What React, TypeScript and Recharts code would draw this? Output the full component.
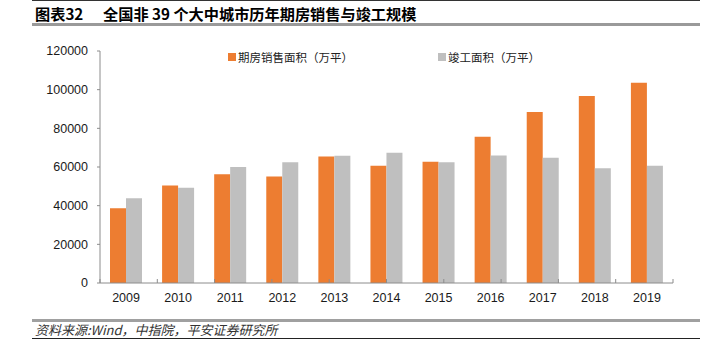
import React from "react";
import { BarChart, Bar, XAxis, YAxis } from "recharts";

const years = ["2009", "2010", "2011", "2012", "2013", "2014", "2015", "2016", "2017", "2018", "2019"];
// 期房销售面积（万平）
const presaleArea = [38600, 50400, 56300, 55100, 65400, 60600, 62700, 75600, 88400, 96700, 103600];
// 竣工面积（万平）
const completedArea = [43900, 49300, 60000, 62400, 65800, 67400, 62500, 66000, 64800, 59400, 60600];
const yTicks = [0, 20000, 40000, 60000, 80000, 100000, 120000];
// category boundaries for the small tick marks on the x axis
const edgeTicks = [0, 1, 2, 3, 4, 5, 6, 7, 8, 9, 10, 11];
const seriesNames = ["期房销售面积（万平）", "竣工面积（万平）"];

const ORANGE = "#ED7D31";
const GREY = "#BFBFBF";
const AXIS = "#8c8c8c";
const FONT = "'Liberation Sans', Arial, sans-serif";
const CJK = "'Noto Sans CJK SC', 'Liberation Sans', sans-serif";

const data = years.map((year, i) => ({
  year,
  presale: presaleArea[i],
  completed: completedArea[i],
}));

const LegendItem = ({ color, label, left }: { color: string; label: string; left: number }) => (
  <div
    style={{
      position: "absolute",
      left,
      top: 49,
      display: "flex",
      alignItems: "center",
      fontFamily: CJK,
      fontSize: 11.5,
      color: "#222",
      lineHeight: "16px",
      whiteSpace: "nowrap",
    }}
  >
    <span style={{ width: 8, height: 8, background: color, marginRight: 2, display: "inline-block" }} />
    {label}
  </div>
);

const titleStyle: React.CSSProperties = {
  position: "absolute",
  top: 4,
  fontFamily: CJK,
  fontWeight: 700,
  fontSize: 15.2,
  lineHeight: "19px",
  color: "#000",
  whiteSpace: "nowrap",
};

export default function App() {
  return (
    <div
      style={{
        position: "absolute",
        left: 0,
        top: 0,
        width: 713,
        height: 360,
        background: "#fff",
        overflow: "hidden",
      }}
    >
      {/* title bar */}
      <div style={{ position: "absolute", left: 32, top: 0, width: 668, height: 1, background: "#333" }} />
      <div style={{ ...titleStyle, left: 35 }}>图表32</div>
      <div style={{ ...titleStyle, left: 103 }}>全国非 39 个大中城市历年期房销售与竣工规模</div>
      <div style={{ position: "absolute", left: 32, top: 23, width: 668, height: 3, background: "#9a9a9a" }} />

      <BarChart
        width={713}
        height={360}
        data={data}
        margin={{ top: 51, right: 40, bottom: 47, left: 40 }}
        barGap={0}
        style={{ position: "absolute", left: 0, top: 0 }}
      >
        <XAxis
          dataKey="year"
          height={30}
          tickLine={false}
          tickSize={0}
          tickMargin={10}
          axisLine={{ stroke: AXIS }}
          tick={{ fontFamily: FONT, fontSize: 12.5, fill: "#1a1a1a" }}
        />
        <XAxis
          xAxisId="edge"
          type="number"
          domain={[0, 11]}
          allowDataOverflow
          ticks={edgeTicks}
          interval={0}
          mirror
          axisLine={false}
          tickSize={4}
          tickLine={{ stroke: AXIS }}
          tick={() => <g />}
        />
        <YAxis
          width={60}
          domain={[0, 120000]}
          ticks={yTicks}
          interval={0}
          tickSize={3}
          tickMargin={9}
          axisLine={{ stroke: AXIS }}
          tickLine={{ stroke: AXIS }}
          tick={{ fontFamily: FONT, fontSize: 12.5, fill: "#1a1a1a" }}
        />
        <Bar dataKey="presale" name={seriesNames[0]} fill={ORANGE} barSize={16} isAnimationActive={false} />
        <Bar dataKey="completed" name={seriesNames[1]} fill={GREY} barSize={16} isAnimationActive={false} />
      </BarChart>

      <LegendItem color={ORANGE} label={seriesNames[0]} left={228} />
      <LegendItem color={GREY} label={seriesNames[1]} left={438} />

      {/* source footer */}
      <div style={{ position: "absolute", left: 32, top: 319, width: 668, height: 3, background: "#a0a0a0" }} />
      <div
        style={{
          position: "absolute",
          left: 35,
          top: 321,
          fontFamily: CJK,
          fontStyle: "italic",
          fontSize: 13,
          lineHeight: "17px",
          color: "#333",
          whiteSpace: "nowrap",
        }}
      >
        资料来源:Wind，中指院，平安证券研究所
      </div>
      <div style={{ position: "absolute", left: 32, top: 338, width: 668, height: 1, background: "#222" }} />
    </div>
  );
}
